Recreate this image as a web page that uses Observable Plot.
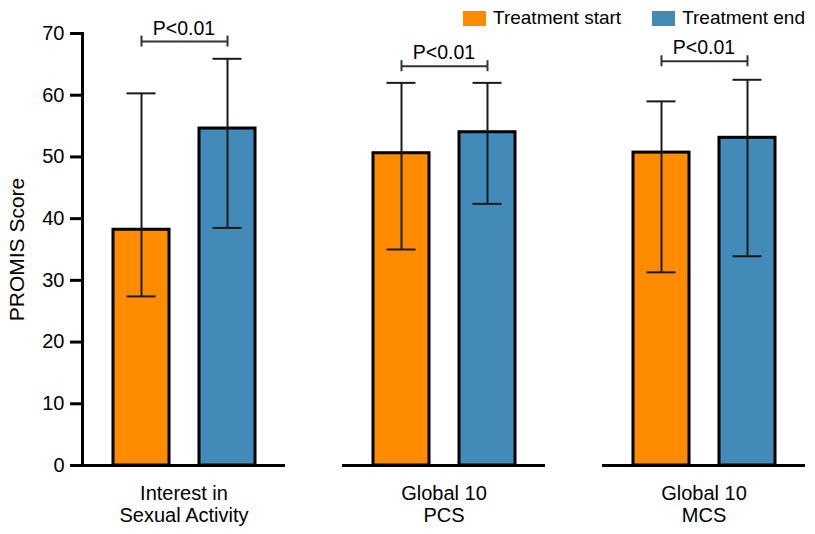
<!DOCTYPE html>
<html>
<head>
<meta charset="utf-8">
<script src="https://cdn.jsdelivr.net/npm/d3@7"></script>
<script src="https://cdn.jsdelivr.net/npm/@observablehq/plot@0.6"></script>
<style>
  html, body { margin: 0; padding: 0; background: #fff; }
  #wrap { position: relative; width: 815px; height: 534px; font-family: "Liberation Sans", Arial, sans-serif; }
  #legend { position: absolute; left: 463px; top: 7px; display: flex; align-items: center; font-size: 19px; color: #000; }
  #legend .item { display: flex; align-items: center; margin-right: 31px; }
  #legend .item:last-child { margin-right: 0; }
  #legend .sw { width: 23px; height: 15px; margin-right: 7px; }
</style>
</head>
<body>
<div id="wrap"><div id="legend"></div></div>
<script>
// PROMIS scores at the start and end of treatment (mean with range bars)
const groups = ["Interest in\nSexual Activity", "Global 10\nPCS", "Global 10\nMCS"];
const series = ["Treatment start", "Treatment end"];
const colors = ["#ff8b00", "#428bb9"];

const startMean = [38.2, 50.6, 50.7];
const startLow  = [27.4, 35.0, 31.3];
const startHigh = [60.3, 62.0, 59.0];

const endMean = [54.6, 54.0, 53.1];
const endLow  = [38.5, 42.4, 33.9];
const endHigh = [65.9, 62.0, 62.5];

// significance brackets between the two bars of each group
const pLabels  = ["P<0.01", "P<0.01", "P<0.01"];
const bracketY = [68.7, 64.7, 65.5];

const yDomain = [0, 70];
const yTicks = [0, 10, 20, 30, 40, 50, 60, 70];

const rows = groups.flatMap((g, i) => [
  {group: g, series: series[0], mean: startMean[i], low: startLow[i], high: startHigh[i]},
  {group: g, series: series[1], mean: endMean[i], low: endLow[i], high: endHigh[i]}
]);
const brackets = groups.map((g, i) => ({group: g, p: pLabels[i], b: bracketY[i]}));
const bracketEnds = brackets.flatMap(d => series.map(s => ({...d, series: s})));

const chart = Plot.plot({
  width: 815,
  height: 534,
  marginLeft: 81,
  marginRight: 9,
  marginTop: 33,
  marginBottom: 69,
  style: {fontFamily: "'Liberation Sans', Arial, sans-serif", fontSize: "20px", color: "#000", background: "#fff"},
  fx: {domain: groups, padding: 0.22},
  x: {domain: series, padding: 0.35, axis: null},
  y: {domain: yDomain},
  color: {domain: series, range: colors},
  marks: [
    Plot.barY(rows, {fx: "group", x: "series", y: "mean", fill: "series", stroke: "#000", strokeWidth: 3}),
    Plot.ruleX(rows, {fx: "group", x: "series", y1: "low", y2: "high", stroke: "#1a1a1a", strokeWidth: 2}),
    Plot.tickY(rows, {fx: "group", x: "series", y: "low", stroke: "#1a1a1a", strokeWidth: 2, insetLeft: 13.5, insetRight: 13.5}),
    Plot.tickY(rows, {fx: "group", x: "series", y: "high", stroke: "#1a1a1a", strokeWidth: 2, insetLeft: 13.5, insetRight: 13.5}),
    Plot.ruleY([0], {stroke: "#000", strokeWidth: 3}),
    Plot.link(brackets, {fx: "group", x1: () => series[0], x2: () => series[1], y1: "b", y2: "b", stroke: "#333", strokeWidth: 2}),
    Plot.ruleX(bracketEnds, {fx: "group", x: "series", y1: "b", y2: "b", insetTop: -5.5, insetBottom: -5.5, stroke: "#333", strokeWidth: 2}),
    Plot.text(brackets, {fx: "group", y: "b", text: "p", lineAnchor: "bottom", dy: -7, fontSize: 19.5, fill: "#000"}),
    Plot.axisY({ticks: yTicks, tickSize: 12, tickPadding: 6, strokeWidth: 3, fontSize: 20, label: null}),
    Plot.axisY({
      ticks: [], tickSize: 0, fontSize: 21,
      label: "PROMIS Score", labelAnchor: "center", labelArrow: "none", labelOffset: 73
    }),
    Plot.axisFx({anchor: "bottom", tickSize: 0, tickPadding: 19, label: null, fontSize: 20, lineHeight: 1.1}),
    // vertical axis line on the leftmost panel only, drawn on top
    Plot.frame({anchor: "left", facetAnchor: "left", stroke: "#000", strokeWidth: 3})
  ]
});

const wrap = document.getElementById("wrap");
wrap.insertBefore(chart, wrap.firstChild);

const legend = document.getElementById("legend");
series.forEach((s, i) => {
  const item = document.createElement("div");
  item.className = "item";
  const sw = document.createElement("span");
  sw.className = "sw";
  sw.style.background = colors[i];
  const label = document.createElement("span");
  label.textContent = s;
  item.appendChild(sw);
  item.appendChild(label);
  legend.appendChild(item);
});
</script>
</body>
</html>
